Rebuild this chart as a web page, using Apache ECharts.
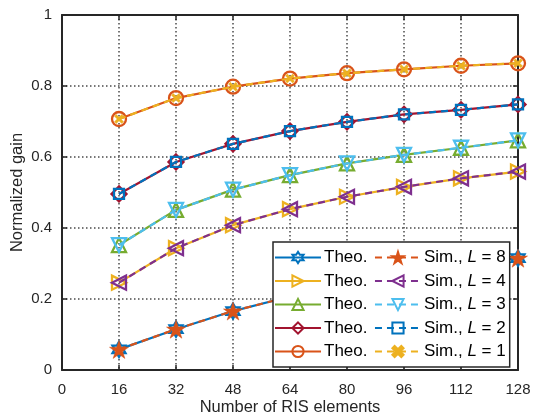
<!DOCTYPE html>
<html>
<head>
<meta charset="utf-8">
<script src="https://cdn.jsdelivr.net/npm/echarts@6/dist/echarts.min.js"></script>
<style>
  html, body { margin: 0; padding: 0; background: #fff; }
  #chart { width: 535px; height: 420px; }
</style>
</head>
<body>
<div id="chart"></div>
<script>
// number of RIS elements (x)
const elements = [16, 32, 48, 64, 80, 96, 112, 128];
const xTicks = [0, 16, 32, 48, 64, 80, 96, 112, 128];
const yTicks = [0, 0.2, 0.4, 0.6, 0.8, 1];

// normalized gain per number of paths L (theory and simulation overlap)
const gainL8 = [0.058, 0.115, 0.166, 0.207, 0.243, 0.272, 0.295, 0.315];
const gainL4 = [0.246, 0.343, 0.408, 0.453, 0.488, 0.516, 0.540, 0.559];
const gainL3 = [0.352, 0.451, 0.508, 0.549, 0.582, 0.606, 0.626, 0.647];
const gainL2 = [0.496, 0.586, 0.637, 0.673, 0.699, 0.720, 0.733, 0.748];
const gainL1 = [0.707, 0.766, 0.798, 0.821, 0.836, 0.847, 0.857, 0.864];

const pathsL = [8, 4, 3, 2, 1];
const gains = [gainL8, gainL4, gainL3, gainL2, gainL1];

const hexagram = 'path://M0,-10 L2.89,-5 L8.66,-5 L5.77,0 L8.66,5 L2.89,5 L0,10 L-2.89,5 L-8.66,5 L-5.77,0 L-8.66,-5 L-2.89,-5 Z';
const pentagram = 'path://M0,-10 L2.245,-3.09 L9.51,-3.09 L3.633,1.18 L5.88,8.09 L0,3.82 L-5.88,8.09 L-3.633,1.18 L-9.51,-3.09 L-2.245,-3.09 Z';
const cross = 'path://M2,0 L5,3 L8,0 L10,2 L7,5 L10,8 L8,10 L5,7 L2,10 L0,8 L3,5 L0,2 Z';

// theo / sim styles per L (MATLAB colour order)
const theoStyle = [
  { color: '#0072BD', symbol: hexagram, size: 15, rotate: 0, fill: false },
  { color: '#EDB120', symbol: 'triangle', size: 14, rotate: -90, fill: false },
  { color: '#77AC30', symbol: 'triangle', size: 14, rotate: 0, fill: false },
  { color: '#A2142F', symbol: 'diamond', size: 15, rotate: 0, fill: false },
  { color: '#D95319', symbol: 'circle', size: 14, rotate: 0, fill: false }
];
const simStyle = [
  { color: '#D95319', symbol: pentagram, size: 19, rotate: 0, fill: true },
  { color: '#7E2F8E', symbol: 'triangle', size: 14, rotate: 90, fill: false },
  { color: '#4DBEEE', symbol: 'triangle', size: 14, rotate: 180, fill: false },
  { color: '#0072BD', symbol: 'rect', size: 10, rotate: 0, fill: false },
  { color: '#EDB120', symbol: cross, size: 9, rotate: 0, fill: true }
];

const makeSeries = (kind, st, i) => ({
  name: kind + ' L=' + pathsL[i],
  type: 'line',
  data: elements.map((x, j) => [x, gains[i][j]]),
  symbol: st.symbol,
  symbolSize: st.size,
  symbolRotate: st.rotate,
  symbolKeepAspect: true,
  showAllSymbol: true,
  clip: false,
  z: kind === 'Theo.' ? 2 : 3,
  lineStyle: { color: st.color, width: 2.2, type: kind === 'Theo.' ? 'solid' : [7, 5] },
  itemStyle: {
    color: st.fill ? st.color : 'rgba(255,255,255,0)',
    borderColor: st.color,
    borderWidth: st.fill ? 0.5 : 2.3
  },
  emphasis: { disabled: true }
});

const series = [];
theoStyle.forEach((st, i) => series.push(makeSeries('Theo.', st, i)));
simStyle.forEach((st, i) => series.push(makeSeries('Sim.', st, i)));

const font = 'Liberation Sans, Arial, Helvetica, sans-serif';
const txt = '#262626';

const chart = echarts.init(document.getElementById('chart'), null, { renderer: 'canvas' });
const option = {
  animation: false,
  backgroundColor: '#fff',
  textStyle: { fontFamily: font },
  grid: { left: 62, right: 17, top: 15, bottom: 50, show: false, outerBoundsMode: 'none', containLabel: false },
  legend: {
    orient: 'vertical',
    left: 273,
    top: 242,
    height: 112,
    itemWidth: 46,
    itemHeight: 14,
    itemGap: 6.5,
    padding: [7, 4, 7, 1],
    backgroundColor: '#fff',
    borderColor: txt,
    borderWidth: 1.5,
    borderRadius: 0,
    data: series.map(s => s.name),
    formatter: name => {
      if (name.startsWith('Theo')) return 'Theo.';
      return 'Sim., {i|L} = ' + name.split('=')[1];
    },
    textStyle: {
      fontFamily: font,
      fontSize: 17,
      lineHeight: 16,
      color: '#000',
      padding: [0, 0, 0, -2],
      rich: { i: { fontStyle: 'italic', fontSize: 17, lineHeight: 16, fontFamily: font, color: '#000' } }
    }
  },
  xAxis: [{
    type: 'value',
    min: 0, max: 128, interval: 16,
    name: 'Number of RIS elements',
    nameLocation: 'middle',
    nameGap: 29,
    nameMoveOverlap: false,
    nameTextStyle: { fontSize: 16.5, color: txt, fontFamily: font },
    axisLine: { onZero: false, lineStyle: { color: txt, width: 2 } },
    axisTick: { inside: true, length: 5, lineStyle: { color: txt, width: 1.5 } },
    axisLabel: { fontSize: 15, color: txt, margin: 12, fontFamily: font,
      formatter: v => xTicks.includes(v) ? String(v) : '' },
    splitLine: { show: true, lineStyle: { color: '#4a4a4a', width: 1.5, type: [1.5, 2.5] } }
  }, {
    type: 'value', position: 'top',
    min: 0, max: 128, interval: 16,
    axisLine: { onZero: false, lineStyle: { color: txt, width: 2 } },
    axisTick: { inside: true, length: 5, lineStyle: { color: txt, width: 1.5 } },
    axisLabel: { show: false },
    splitLine: { show: false }
  }],
  yAxis: [{
    type: 'value',
    min: 0, max: 1, interval: 0.2,
    name: 'Normalized gain',
    nameLocation: 'middle',
    nameGap: 36,
    nameMoveOverlap: false,
    nameTextStyle: { fontSize: 16.5, color: txt, fontFamily: font },
    axisLine: { show: true, onZero: false, lineStyle: { color: txt, width: 2 } },
    axisTick: { show: true, inside: true, length: 5, lineStyle: { color: txt, width: 1.5 } },
    axisLabel: { fontSize: 15, color: txt, margin: 10, fontFamily: font,
      formatter: v => yTicks.some(t => Math.abs(t - v) < 1e-9) ? String(+v.toFixed(1)) : '' },
    splitLine: { show: true, lineStyle: { color: '#4a4a4a', width: 1.5, type: [1.5, 2.5] } }
  }, {
    type: 'value', position: 'right',
    min: 0, max: 1, interval: 0.2,
    axisLine: { show: true, onZero: false, lineStyle: { color: txt, width: 2 } },
    axisTick: { show: true, inside: true, length: 5, lineStyle: { color: txt, width: 1.5 } },
    axisLabel: { show: false },
    splitLine: { show: false }
  }],
  series: series
};
chart.setOption(option);
</script>
</body>
</html>
